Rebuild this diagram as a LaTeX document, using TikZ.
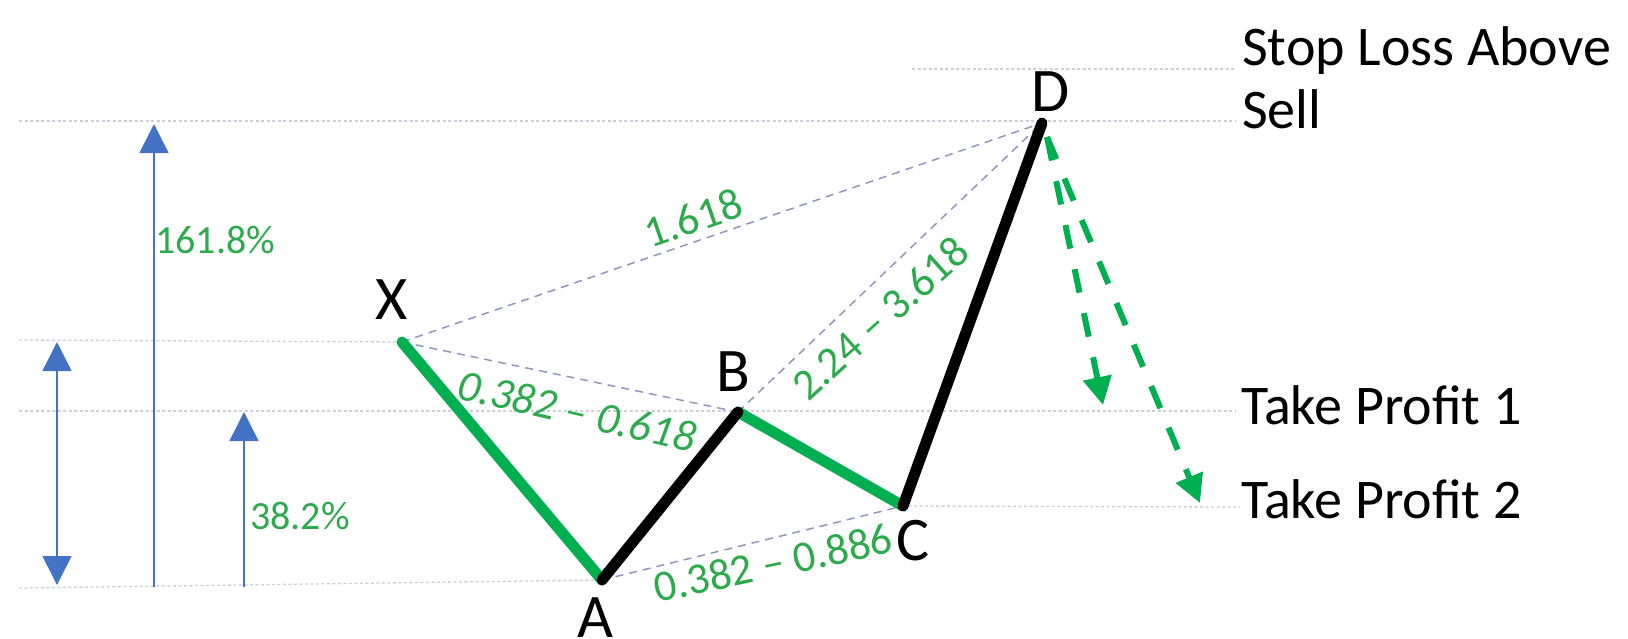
\documentclass[tikz,border=0pt]{standalone}
\usepackage{fontspec}
\setmainfont{Carlito}
\usetikzlibrary{arrows.meta}
\definecolor{lgreen}{HTML}{00B050}
\definecolor{tgreen}{HTML}{2DAA4B}
\definecolor{bluec}{HTML}{4472C4}
\definecolor{gridc}{HTML}{C9CED8}
\definecolor{dashc}{HTML}{8B98BD}
\begin{document}
\begin{tikzpicture}[x=1pt,y=-1pt,
  gridline/.style={draw=gridc, line width=1.3pt, dash pattern=on 3pt off 2.5pt},
  thinline/.style={draw=dashc, line width=1.5pt, dash pattern=on 8pt off 6pt},
  legg/.style={draw=lgreen, line width=11pt, line cap=round},
  legk/.style={draw=black, line width=11pt, line cap=round},
  blarrow/.style={draw=bluec, line width=1.6pt},
  garrow/.style={draw=lgreen, line width=6pt, dash pattern=on 24pt off 21pt, -{Triangle[width=28pt,length=28pt]}},
  ptlabel/.style={inner sep=0pt, font=\fontsize{62}{70}\selectfont},
  ratio/.style={inner sep=0pt, text=tgreen, font=\fontsize{44}{50}\selectfont},
  pct/.style={inner sep=0pt, text=tgreen, font=\fontsize{40}{46}\selectfont, anchor=west},
  side/.style={inner sep=0pt, font=\fontsize{56}{63}\selectfont, anchor=base west, align=left}]

\useasboundingbox (0,0) rectangle (1628,638);
\clip (0,0) rectangle (1628,638);

% pattern points
\coordinate (X) at (402,342);
\coordinate (A) at (602,580);
\coordinate (B) at (738,412);
\coordinate (C) at (903,506);
\coordinate (D) at (1042,123);

% grid line ends
\coordinate (gs1) at (912,69);   \coordinate (gs2) at (1236,69);
\coordinate (gd1) at (19,121);   \coordinate (gd2) at (1236,121);
\coordinate (gx1) at (19,340);
\coordinate (gb1) at (19,411);   \coordinate (gb2) at (1236,411);
\coordinate (gc2) at (1240,507);
\coordinate (ga1) at (19,588);

\draw[gridline] (gs1) -- (gs2);
\draw[gridline] (gd1) -- (gd2);
\draw[gridline] (gx1) -- (X);
\draw[gridline] (gb1) -- (gb2);
\draw[gridline] (C) -- (gc2);
\draw[gridline] (ga1) -- (A);

% blue measuring arrows
\coordinate (a1t) at (57,342);  \coordinate (a1b) at (57,585);
\coordinate (a2t) at (154,124); \coordinate (a2b) at (154,587);
\coordinate (a3t) at (244,412); \coordinate (a3b) at (244,587);
\draw[blarrow, {Triangle[width=29pt,length=29pt]}-{Triangle[width=29pt,length=29pt]}] (a1t) -- (a1b);
\draw[blarrow, -{Triangle[width=29pt,length=29pt]}] (a2b) -- (a2t);
\draw[blarrow, -{Triangle[width=29pt,length=29pt]}] (a3b) -- (a3t);

\node[pct] (p1) at (155,240) {161.8\%};
\node[pct] (p2) at (250,516) {38.2\%};

% thin dashed ratio lines
\draw[thinline] (X) -- (D);
\draw[thinline] (X) -- (B);
\draw[thinline] (B) -- (D);
\draw[thinline] (A) -- (C);

% legs
\draw[legg] (X) -- (A);
\draw[legg] (B) -- (C);
\draw[legk] (A) -- (B);
\draw[legk] (C) -- (D);

% point labels
\node[ptlabel] (lX) at (392,300) {X};
\node[ptlabel] (lA) at (595,618) {A};
\node[ptlabel] (lB) at (733,372) {B};
\node[ptlabel] (lC) at (913,541) {C};
\node[ptlabel] (lD) at (1051,92) {D};

% ratio labels
\node[ratio, rotate=19] (r1) at (693,218) {1.618};
\node[ratio, rotate=-13, font=\fontsize{44}{50}\selectfont\itshape] (r2) at (577,411) {0.382 – 0.618};
\node[ratio, rotate=42] (r3) at (880,318) {2.24 – 3.618};
\node[ratio, rotate=12] (r4) at (773,563) {0.382 – 0.886};

% green target arrows
\coordinate (Ds) at (1047,137);
\coordinate (T1) at (1103,405);
\coordinate (T2) at (1200,503);
\draw[garrow] (Ds) -- (T1);
\draw[garrow] (Ds) -- (T2);

% side texts (base anchor = baseline of last line)
\node[side] (sl) at (1242,128) {Stop Loss Above\\Sell};
\node[side] (tp1) at (1241,424) {Take Profit 1};
\node[side] (tp2) at (1241,518) {Take Profit 2};
\end{tikzpicture}
\end{document}
